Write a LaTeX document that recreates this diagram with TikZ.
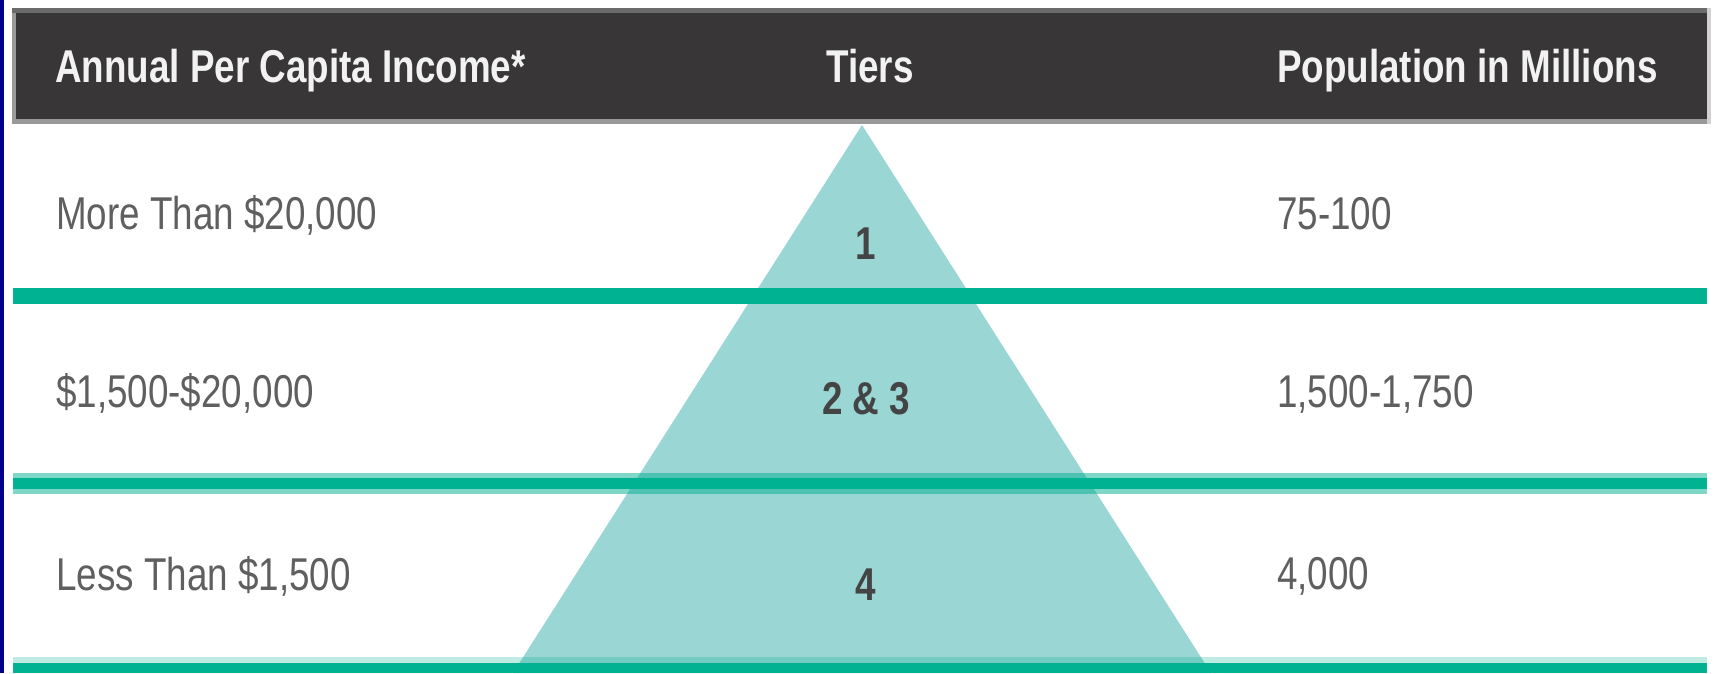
\documentclass[tikz,border=0pt]{standalone}
\usepackage{fontspec}
\setmainfont{Liberation Sans}[FakeStretch=0.8]
\definecolor{navy}{RGB}{0,0,140}
\definecolor{hdr}{RGB}{56,54,55}
\definecolor{hdrtop}{RGB}{107,107,107}
\definecolor{hdrbot}{RGB}{153,153,153}
\definecolor{teal}{RGB}{0,177,146}
\definecolor{tri}{RGB}{154,214,211}
\definecolor{rowtxt}{RGB}{95,95,95}
\definecolor{tiertxt}{RGB}{68,68,68}
\begin{document}
\begin{tikzpicture}[x=1pt,y=-1pt,
  hdrtext/.style={inner sep=0pt,text=white!95!black,font=\fontsize{46}{50}\selectfont\bfseries},
  rowtext/.style={inner sep=0pt,text=rowtxt,font=\fontsize{46}{50}\selectfont},
  tiertext/.style={inner sep=0pt,text=tiertxt,font=\fontsize{46}{50}\selectfont\bfseries},
  darkline/.style={fill=teal},
  softband/.style={fill=teal,fill opacity=0.5},
  faintband/.style={fill=teal,fill opacity=0.25}]
\useasboundingbox (0,0) rectangle (1715,673);
\fill[white] (0,0) rectangle (1715,673);
\fill[navy] (0,0) rectangle (4,673);
% pyramid
\fill[tri] (862,125) -- (1211,673) -- (513,673) -- cycle;
% row separators
\fill[darkline] (13,288) rectangle (1707,304);
\fill[softband] (13,473) rectangle (1707,478);
\fill[darkline] (13,478) rectangle (1707,489);
\fill[softband] (13,489) rectangle (1707,494);
\fill[faintband] (13,657) rectangle (1707,663);
\fill[darkline] (13,663) rectangle (1707,673);
% header bar
\fill[hdrbot] (12,8) rectangle (1707,124);
\fill[hdrtop] (12,8) rectangle (1707,13);
\fill[hdr] (16,13) rectangle (1707,119);
\fill[black!18] (1707,8) rectangle (1711,124);
% header texts
\node[hdrtext,anchor=base west] (h1) at (55,82) {Annual Per Capita Income*};
\node[hdrtext,anchor=base] (h2) at (870,82) {Tiers};
\node[hdrtext,anchor=base west] (h3) at (1277,82) {Population in Millions};
% row 1
\node[rowtext,anchor=base west] (r1a) at (56,229) {More Than \$20,000};
\node[tiertext,anchor=base] (r1b) at (866,259) {1};
\node[rowtext,anchor=base west] (r1c) at (1277,229) {75-100};
% row 2
\node[rowtext,anchor=base west] (r2a) at (56,407) {\$1,500-\$20,000};
\node[tiertext,anchor=base] (r2b) at (866,414) {2 \& 3};
\node[rowtext,anchor=base west] (r2c) at (1277,407) {1,500-1,750};
% row 3
\node[rowtext,anchor=base west] (r3a) at (56,590) {Less Than \$1,500};
\node[tiertext,anchor=base] (r3b) at (866,600) {4};
\node[rowtext,anchor=base west] (r3c) at (1277,589) {4,000};
\end{tikzpicture}
\end{document}
